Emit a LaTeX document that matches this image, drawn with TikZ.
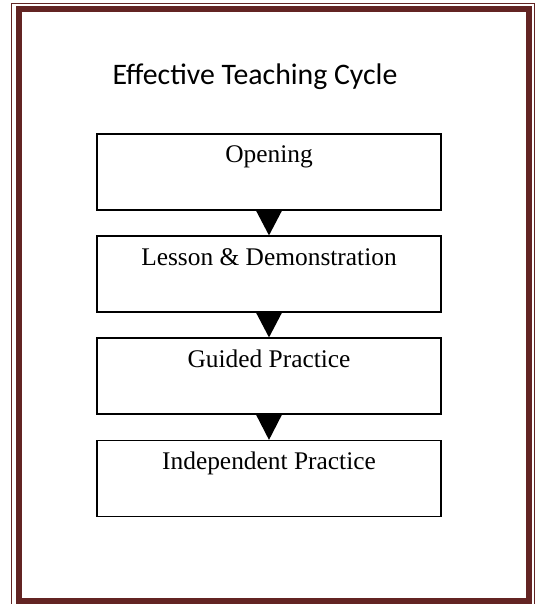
\documentclass[tikz,border=0pt]{standalone}
\usepackage{fontspec}
\setmainfont{Liberation Serif}
\newfontfamily\titlefont{Carlito}
\definecolor{framec}{HTML}{632423}
\begin{document}
\begin{tikzpicture}[x=1pt,y=-1pt,
  stepbox/.style={draw=black,line width=1.2pt,minimum width=344pt,minimum height=76pt,inner sep=0pt},
  steplabel/.style={font=\fontsize{25.4}{28}\selectfont,anchor=base},
  tri/.style={fill=black}]
\useasboundingbox (0,0) rectangle (536,604);
\fill[white] (0,0) rectangle (536,604);
\draw[framec,line width=1.2pt] (11.5,3.5) rectangle (534.5,610);
\draw[framec,line width=6pt] (19,9.5) rectangle (529,600.5);
\node[font=\titlefont\fontsize{29.8}{32}\selectfont,anchor=base] (title) at (255,84.5) {Effective Teaching Cycle};
\node[stepbox] (b1) at (269,172) {};
\node[stepbox] (b2) at (269,274) {};
\node[stepbox] (b3) at (269,376) {};
\node[stepbox] (b4) at (269,478.5) {};
\node[steplabel] (t1) at (269,163) {Opening};
\node[steplabel] (t2) at (269,265) {Lesson \& Demonstration};
\node[steplabel] (t3) at (269,367) {Guided Practice};
\node[steplabel] (t4) at (269,469) {Independent Practice};
\foreach \a/\b in {b1/b2,b2/b3,b3/b4}{
  \fill[tri] ([xshift=-13pt]\a.south) -- ([xshift=13pt]\a.south) -- (\b.north) -- cycle;
}
\end{tikzpicture}
\end{document}
